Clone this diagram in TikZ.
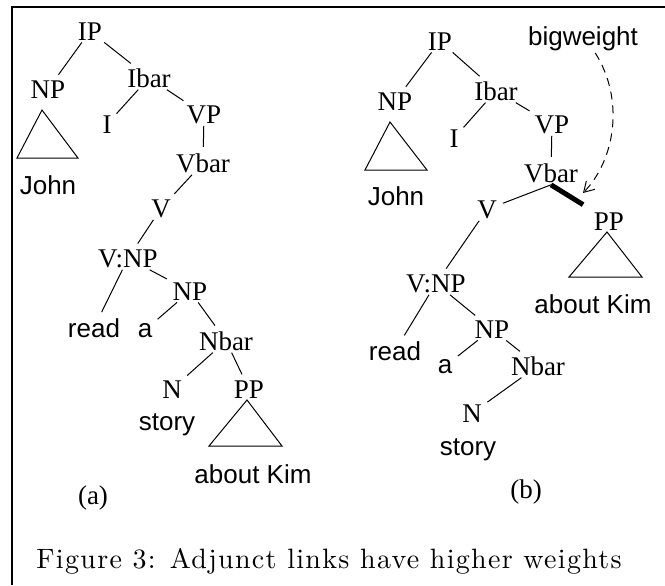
\documentclass[tikz,border=0pt]{standalone}
\usepackage{fontspec}
\newfontfamily\catfont{Liberation Serif}
\newfontfamily\wordfont{Liberation Sans}
\newfontfamily\capfont{lmroman10-regular.otf}[LetterSpace=4.7]
\usetikzlibrary{arrows.meta}

\begin{document}
\begin{tikzpicture}[x=0.5pt,y=-0.5pt,
  cat/.style={font=\catfont\fontsize{13.5}{16}\selectfont,inner sep=1pt,anchor=base},
  word/.style={font=\wordfont\fontsize{13}{16}\selectfont,inner sep=1pt,anchor=base},
  link/.style={line width=0.5pt,shorten >=2pt},
  heavy/.style={line width=2.5pt,shorten >=5pt}]
\useasboundingbox (0,0) rectangle (665,585);
\draw[line width=1pt] (12,585) -- (12,7) -- (665,7);

% (a)
\node[cat] at (90,40) (IPa) {IP};
\node[cat] at (48,98) (NPa) {NP};
\node[word] at (48,194) (Johna) {John};
\node[cat] at (149,87) (Ibara) {Ibar};
\node[cat] at (107,133) (Ia) {I};
\node[cat] at (204,123) (VPa) {VP};
\node[cat] at (203,172) (Vbara) {Vbar};
\node[cat] at (161,217) (Va) {V};
\node[cat] at (128,267) (VNPa) {V:NP};
\node[cat] at (190,300) (NPNa) {NP};
\node[word] at (94,337) (reada) {read};
\node[word] at (145,337) (aa) {a};
\node[cat] at (226,350) (Nbara) {Nbar};
\node[cat] at (172,398) (Na) {N};
\node[cat] at (249,398) (PPa) {PP};
\node[word] at (167,430) (storya) {story};
\node[word] at (253,483) (Kima) {about Kim};
\node[cat] at (93,504) (suba) {(a)};

\draw[link] (IPa) -- (NPa);
\draw[link] (IPa) -- (Ibara);
\draw[link] (Ibara) -- (Ia);
\draw[link] (Ibara) -- (VPa);
\draw[link] (VPa) -- (Vbara);
\draw[link] (Vbara) -- (Va);
\draw[link] (Va) -- (VNPa);
\draw[link] (VNPa) -- (reada);
\draw[link] (VNPa) -- (NPNa);
\draw[link] (NPNa) -- (aa);
\draw[link] (NPNa) -- (Nbara);
\draw[link] (Nbara) -- (Na);
\draw[link] (Nbara) -- (PPa);
\draw[line width=0.5pt] (42,110) -- (17,158) -- (78,158) -- cycle;
\draw[line width=0.5pt] (247,400) -- (209,446) -- (282,446) -- cycle;

% (b)
\node[cat] at (440,50) (IPb) {IP};
\node[cat] at (395,110) (NPb) {NP};
\node[word] at (396,205) (Johnb) {John};
\node[cat] at (496,100) (Ibarb) {Ibar};
\node[cat] at (454,147) (Ib) {I};
\node[cat] at (552,133) (VPb) {VP};
\node[cat] at (551,182) (Vbarb) {Vbar};
\node[cat] at (487,218) (Vb) {V};
\node[cat] at (609,230) (PPb) {PP};
\node[word] at (593,313) (Kimb) {about Kim};
\node[cat] at (436,292) (VNPb) {V:NP};
\node[word] at (395,360) (readb) {read};
\node[cat] at (492,338) (NPNb) {NP};
\node[word] at (445,373) (ab) {a};
\node[cat] at (538,375) (Nbarb) {Nbar};
\node[cat] at (472,422) (Nb) {N};
\node[word] at (468,455) (storyb) {story};
\node[cat] at (526,498) (subb) {(b)};
\node[word] at (583,45) (bigweight) {bigweight};
\coordinate (tip) at (583,193);

\draw[link] (IPb) -- (NPb);
\draw[link] (IPb) -- (Ibarb);
\draw[link] (Ibarb) -- (Ib);
\draw[link] (Ibarb) -- (VPb);
\draw[link] (VPb) -- (Vbarb);
\draw[link] (Vbarb.south) -- (Vb);
\draw[heavy] (Vbarb.south) -- (PPb.north west);
\draw[link] (Vb) -- (VNPb);
\draw[link] (VNPb) -- (readb);
\draw[link] (VNPb) -- (NPNb);
\draw[link] (NPNb) -- (ab);
\draw[link] (NPNb) -- (Nbarb);
\draw[link] (Nbarb) -- (Nb);
\draw[line width=0.5pt] (390,122) -- (365,170) -- (427,170) -- cycle;
\draw[line width=0.5pt] (607,232) -- (569,277) -- (642,277) -- cycle;
\draw[line width=0.5pt,dash pattern=on 4pt off 3pt,-{Straight Barb[length=5pt,width=6pt]}]
  (bigweight.-50) .. controls (625,100) and (615,160) .. (tip);

\node[anchor=base west,inner sep=0pt,font=\capfont\fontsize{14}{17}\selectfont] at (36,568) (caption) {Figure 3: Adjunct links have higher weights};
\end{tikzpicture}
\end{document}
